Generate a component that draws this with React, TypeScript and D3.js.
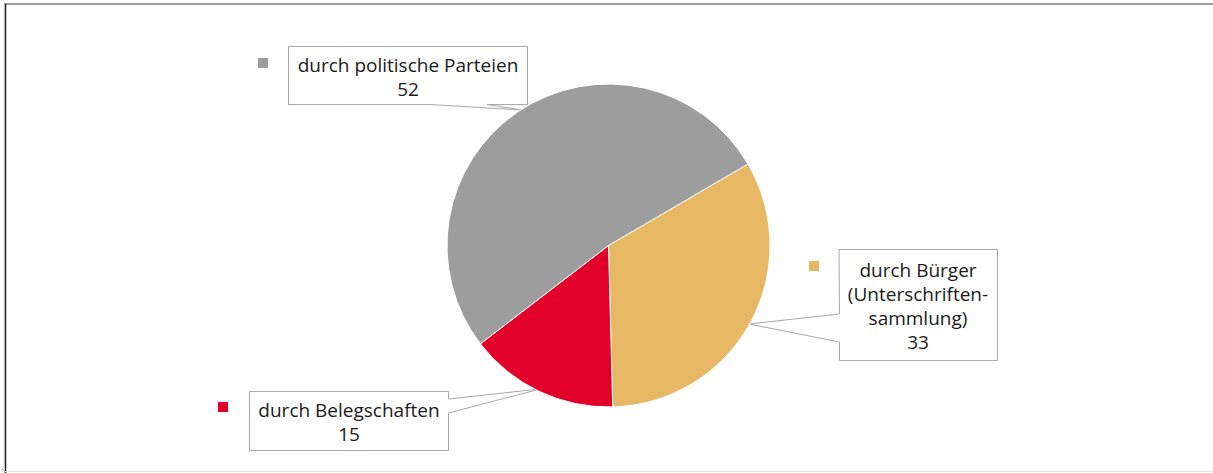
import React from "react";
import * as d3 from "d3";

const categories = ["durch Bürger (Unterschriften-sammlung)", "durch Belegschaften", "durch politische Parteien"];
const values = [33, 15, 52];
const colors = ["#e6b864", "#e2002a", "#9d9d9d"];
const labelLines = [
  ["durch Bürger", "(Unterschriften-", "sammlung)", "33"],
  ["durch Belegschaften", "15"],
  ["durch politische Parteien", "52"],
];

const W = 1213;
const H = 473;
const CX = 608.5;
const CY = 245.5;
const R = 161.5;
const START = (59.7 * Math.PI) / 180;

// callout layouts: box, wedge path, legend marker
const callouts = [
  {
    path: "M839,249.5 H997.5 V360.5 H839.5 V342 L749,324 L839.5,314 Z",
    cx: 918, y0: 277, marker: [809, 261],
  },
  {
    path: "M249.5,391.5 H448.5 V399 L540,389 L448.5,413 V450.5 H249.5 Z",
    cx: 349, y0: 417, marker: [218, 402],
  },
  {
    path: "M288.5,46.5 H527.5 V104.5 H487 L522,110 L430,104.5 H288.5 Z",
    cx: 408, y0: 72, marker: [258, 58],
  },
];

export default function App() {
  const pie = d3
    .pie<number>()
    .sort(null)
    .startAngle(START)
    .endAngle(START + 2 * Math.PI)(values);
  const arc = d3.arc<d3.PieArcDatum<number>>().innerRadius(0).outerRadius(R);
  const font = "'Open Sans', 'Noto Sans', sans-serif";
  return (
    <svg width={W} height={H} style={{ position: "absolute", left: 0, top: 0 }}>
      <rect x={0} y={0} width={W} height={H} fill="#fff" />
      <line x1={4} y1={4} x2={W} y2={4} stroke="#7a7a7a" strokeWidth={1.5} />
      <line x1={5.5} y1={4} x2={5.5} y2={H} stroke="#1a1a1a" strokeWidth={1.5} />
      <line x1={4} y1={4} x2={4} y2={H} stroke="#d0d0d0" strokeWidth={1} />
      <line x1={5} y1={471.5} x2={W} y2={471.5} stroke="#e3e3e3" strokeWidth={1} />
      {callouts.map((c, i) => (
        <path key={"c" + i} d={c.path} fill="#fff" stroke="#a8a8a8" strokeWidth={1} />
      ))}
      <g transform={`translate(${CX},${CY})`}>
        {pie.map((d, i) => (
          <path key={categories[i]} d={arc(d) || ""} fill={colors[i]} stroke="#fff" strokeWidth={1} />
        ))}
      </g>
      {callouts.map((c, i) => (
        <g key={"t" + i}>
          <rect x={c.marker[0]} y={c.marker[1]} width={10} height={10} fill={colors[i]} />
          {labelLines[i].map((t, j) => (
            <text
              key={j}
              x={c.cx}
              y={c.y0 + j * 24}
              textAnchor="middle"
              fontFamily={font}
              fontSize={19}
              fill="#1a1a1a"
            >
              {t}
            </text>
          ))}
        </g>
      ))}
    </svg>
  );
}
